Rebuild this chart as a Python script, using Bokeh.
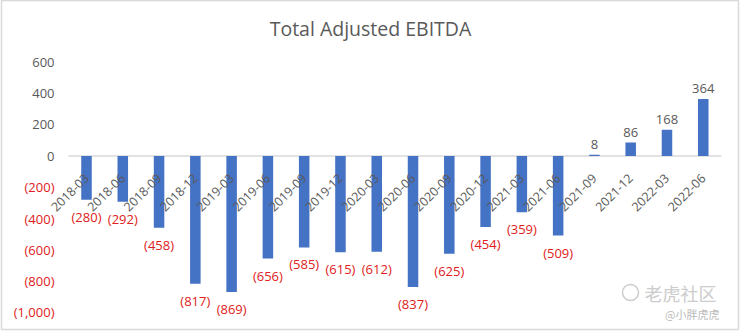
import math
from bokeh.plotting import figure
from bokeh.models import ColumnDataSource, Range1d
from bokeh.core.properties import value
from bokeh.embed import file_html
from bokeh.resources import INLINE

# ---- data ----
quarters = ["2018-03", "2018-06", "2018-09", "2018-12", "2019-03", "2019-06",
            "2019-09", "2019-12", "2020-03", "2020-06", "2020-09", "2020-12",
            "2021-03", "2021-06", "2021-09", "2021-12", "2022-03", "2022-06"]
ebitda = [-280, -292, -458, -817, -869, -656, -585, -615, -612, -837,
          -625, -454, -359, -509, 8, 86, 168, 364]
y_ticks = [600, 400, 200, 0, -200, -400, -600, -800, -1000]
title_text = "Total Adjusted EBITDA"

def fmt(v):
    return "({:,})".format(-v) if v < 0 else "{:,}".format(v)

# ---- layout ----
W, H = 740, 331
FL, FR, FT, FB = 1, 738, 0, 329       # frame in px
X0_PX, DX_PX = 86.0, 36.28            # category 0 centre, spacing
Y0_PX, SY = 155.5, 0.1564             # zero line px, px per unit

x_start = (FL - X0_PX) / DX_PX
x_end = (FR - X0_PX) / DX_PX
y_end = Y0_PX / SY
y_start = -(FB - Y0_PX) / SY

def px_x(px):
    return x_start + (px - FL) / DX_PX

def px_y(py):
    return (Y0_PX - py) / SY

FONT = value("Open Sans")
GRAY = "#595959"
RED = "#e02020"

p = figure(width=W, height=H, output_backend="svg", toolbar_location=None,
           x_range=Range1d(x_start, x_end), y_range=Range1d(y_start, y_end),
           min_border_left=FL, min_border_right=W - FR, min_border_top=FT,
           min_border_bottom=H - FB)
p.axis.visible = False
p.grid.visible = False
p.outline_line_color = "#d9d9d9"
p.outline_line_width = 1.5
p.background_fill_color = "white"
p.border_fill_color = "white"

idx = list(range(len(quarters)))
src = ColumnDataSource(dict(
    x=idx, v=ebitda, cat=quarters,
    lab=[fmt(v) for v in ebitda],
))

# zero line
p.segment(x0=[-0.5], y0=[0], x1=[len(quarters) - 0.5], y1=[0],
          line_color="#d9d9d9", line_width=1.5)

# bars
p.vbar(x="x", top="v", bottom=0, width=0.29, source=src,
       fill_color="#4472C4", line_color=None)

# data labels
neg = ColumnDataSource(dict(
    x=[i for i, v in zip(idx, ebitda) if v < 0],
    v=[v for v in ebitda if v < 0],
    lab=[fmt(v) for v in ebitda if v < 0]))
pos = ColumnDataSource(dict(
    x=[i for i, v in zip(idx, ebitda) if v >= 0],
    v=[v for v in ebitda if v >= 0],
    lab=[fmt(v) for v in ebitda if v >= 0]))
p.text(x="x", y="v", text="lab", source=neg, text_font=FONT,
       text_font_size="13px", text_color=RED, text_align="center",
       text_baseline="top", y_offset=8)
p.text(x="x", y="v", text="lab", source=pos, text_font=FONT,
       text_font_size="13px", text_color=GRAY, text_align="center",
       text_baseline="bottom", y_offset=-6)

# category labels (rotated)
p.text(x="x", y=0, text="cat", source=src, text_font=FONT,
       text_font_size="12.5px", text_color=GRAY, text_align="right",
       text_baseline="middle", angle=math.pi / 4, x_offset=0, y_offset=20)

# y tick labels
p.text(x=[px_x(54)] * len(y_ticks), y=y_ticks, text=[fmt(t) for t in y_ticks],
       text_font=FONT, text_font_size="13px",
       text_color=[RED if t < 0 else GRAY for t in y_ticks],
       text_align="right", text_baseline="middle")

# title
p.text(x=[px_x(370)], y=[px_y(28)], text=[title_text], text_font=FONT,
       text_font_size="19.5px", text_color=GRAY, text_align="center",
       text_baseline="middle")

# watermark
p.scatter(x=[px_x(630)], y=[px_y(292)], size=16, marker="circle",
          fill_color=None, line_color="#cccccc", line_width=1.5)
p.text(x=[px_x(644)], y=[px_y(292)], text=["老虎社区"],
       text_font=value("Noto Sans CJK SC"), text_font_size="18px",
       text_color="#cccccc", text_align="left", text_baseline="middle")
p.text(x=[px_x(719)], y=[px_y(313)], text=["@小胖虎虎"],
       text_font=value("Noto Sans CJK SC"), text_font_size="11px",
       text_color="#bbbbbb", text_align="right", text_baseline="middle")

open("out.html", "w").write(file_html(p, INLINE))
